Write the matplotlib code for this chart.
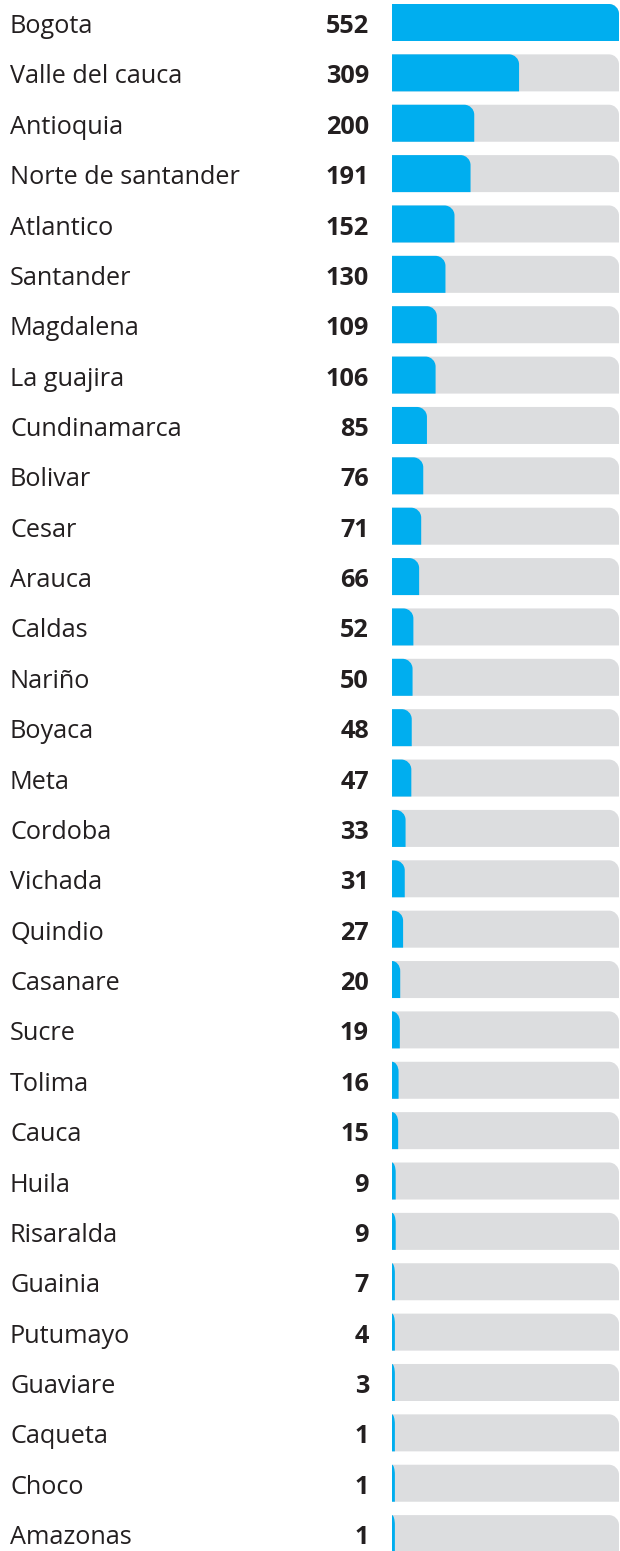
import numpy as np
import matplotlib.pyplot as plt
from matplotlib.path import Path
from matplotlib.patches import PathPatch
from matplotlib.transforms import blended_transform_factory

departments = ["Bogota", "Valle del cauca", "Antioquia", "Norte de santander", "Atlantico",
               "Santander", "Magdalena", "La guajira", "Cundinamarca", "Bolivar", "Cesar",
               "Arauca", "Caldas", "Nariño", "Boyaca", "Meta", "Cordoba", "Vichada",
               "Quindio", "Casanare", "Sucre", "Tolima", "Cauca", "Huila", "Risaralda",
               "Guainia", "Putumayo", "Guaviare", "Caqueta", "Choco", "Amazonas"]
counts = [552, 309, 200, 191, 152, 130, 109, 106, 85, 76, 71, 66, 52, 50, 48, 47, 33, 31,
          27, 20, 19, 16, 15, 9, 9, 7, 4, 3, 1, 1, 1]

BLUE = "#00AEEF"
GREY = "#DCDDDF"
TEXT = "#231F20"

W, H = 620, 1551
pitch = 50.37
fig = plt.figure(figsize=(W / 100, H / 100), dpi=100)
ax = fig.add_axes([392 / W, 0, 227 / W, 1])
xmax = max(counts)
ax.set_xlim(0, xmax)
ax.set_ylim((H - 22.5) / pitch, -22.5 / pitch)
ax.axis("off")

# radius of the rounded top-right corner, in data units
rx = 10 * xmax / 227
ry = 10 / pitch
k = 0.5523


def top_right_round(x0, x1, yc, h, color):
    top, bot = yc - h / 2, yc + h / 2
    r_x = min(rx, x1 - x0)
    verts = [(x0, bot), (x1, bot), (x1, top + ry),
             (x1, top + ry - k * ry), (x1 - r_x + k * r_x, top), (x1 - r_x, top),
             (x0, top), (x0, bot)]
    codes = [Path.MOVETO, Path.LINETO, Path.LINETO,
             Path.CURVE4, Path.CURVE4, Path.CURVE4,
             Path.LINETO, Path.CLOSEPOLY]
    ax.add_patch(PathPatch(Path(verts, codes), facecolor=color, edgecolor="none"))


bar_h = 37 / pitch
for i, v in enumerate(counts):
    top_right_round(0, xmax, i, bar_h, GREY)
    top_right_round(0, max(v, 7), i, bar_h, BLUE)

tr = blended_transform_factory(fig.transFigure, ax.transData)
for i, (name, v) in enumerate(zip(departments, counts)):
    ax.text(10 / W, i + 0.08, name, transform=tr, ha="left", va="center",
            fontsize=18.2, color=TEXT, family="Open Sans")
    ax.text(369 / W, i + 0.08, str(v), transform=tr, ha="right", va="center",
            fontsize=18.2, color=TEXT, family="Open Sans", fontweight="bold")

fig.savefig("out.png", dpi=100)
